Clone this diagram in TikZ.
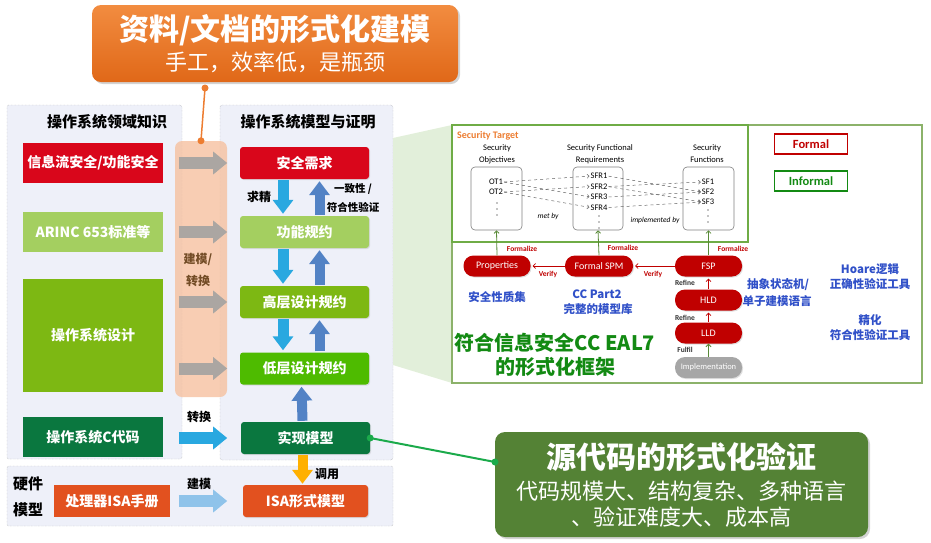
\documentclass[tikz,border=0pt]{standalone}
\usepackage{fontspec}
\setmainfont{Noto Sans CJK SC}
\newfontfamily\stfont{Carlito}
\usetikzlibrary{arrows.meta,shadows,positioning}
\definecolor{cred}{HTML}{D9061B}
\definecolor{clgreen}{HTML}{A4CF60}
\definecolor{cgreen}{HTML}{7DB813}
\definecolor{cbgreen}{HTML}{4EBB00}
\definecolor{cdgreen}{HTML}{0A773F}
\definecolor{corange}{HTML}{E2511F}
\definecolor{cpanel}{HTML}{EEF0F9}
\definecolor{cband}{HTML}{F6C1A0}
\definecolor{cgrayarr}{HTML}{ABA6A2}
\definecolor{ccyan}{HTML}{29A8E0}
\definecolor{cblue}{HTML}{5282C5}
\definecolor{cyellow}{HTML}{FFB000}
\definecolor{clblue}{HTML}{8FC3EA}
\definecolor{ctop}{HTML}{F28C40}
\definecolor{cbot}{HTML}{E06818}
\definecolor{csrc}{HTML}{548235}
\definecolor{ctrap}{HTML}{E2EFDA}
\definecolor{crpanel}{HTML}{8CB26A}
\definecolor{cst}{HTML}{6FAC46}
\definecolor{cpill}{HTML}{C00000}
\definecolor{cpgray}{HTML}{A6A6A6}
\definecolor{ctxtblue}{HTML}{3050C8}
\definecolor{cbiggreen}{HTML}{138A13}
\definecolor{cstorange}{HTML}{ED7D31}
\definecolor{clinkgreen}{HTML}{1BAA4B}
\begin{document}
\begin{tikzpicture}[x=1pt,y=-1pt]
        \tikzstyle{every node}+=[inner sep=0pt]
        \tikzstyle{panel}=[draw=gray!80, densely dotted, fill=cpanel, rounded corners=2pt]
        \tikzstyle{lbox}=[minimum width=140pt, minimum height=40pt, text=white, font=\bfseries\fontsize{14pt}{16pt}\selectfont]
        \tikzstyle{mbox}=[rounded corners=3pt, minimum width=129pt, minimum height=32pt, text=white, font=\bfseries\fontsize{14pt}{16pt}\selectfont, drop shadow={opacity=0.2, shadow xshift=1pt, shadow yshift=-1pt}]
        \tikzstyle{lbl}=[font=\bfseries\fontsize{12pt}{14pt}\selectfont]
        \tikzstyle{sidearr}=[line width=12pt, -{Triangle[length=14pt, width=22pt]}]
        \tikzstyle{vertarr}=[line width=11pt, -{Triangle[length=14pt, width=20pt]}]
        \tikzstyle{sttxt}=[font=\stfont\fontsize{8.5pt}{12pt}\selectfont, align=center]
        \tikzstyle{stbox}=[draw=gray, rounded corners=4pt, line width=0.6pt, minimum height=63pt]
        \tikzstyle{dasharr}=[dashed, gray!80!black, line width=0.5pt, -{Straight Barb[length=2pt, width=4pt]}, shorten <=1pt, shorten >=1pt]
        \tikzstyle{pill}=[fill=cpill, rounded corners=10pt, minimum width=67pt, minimum height=21pt, text=white, font=\stfont\fontsize{10pt}{12pt}\selectfont, drop shadow={opacity=0.25, shadow xshift=1pt, shadow yshift=-1pt}]
        \tikzstyle{garr}=[draw=cst!80!black, line width=0.8pt, -{Straight Barb[length=2.5pt, width=5pt]}]
        \tikzstyle{rarr}=[draw=cpill, line width=0.6pt, -{Straight Barb[length=2.5pt, width=5pt]}, shorten >=2pt]
        \tikzstyle{redsmall}=[text=cpill, font=\stfont\bfseries\fontsize{7.5pt}{9pt}\selectfont]
        \tikzstyle{bluetxt}=[text=ctxtblue, font=\bfseries\fontsize{11.5pt}{13pt}\selectfont]
        \tikzstyle{biggreen}=[text=cbiggreen, font=\bfseries\fontsize{20pt}{22pt}\selectfont]
        \tikzstyle{legend}=[line width=1.3pt, minimum width=73pt, minimum height=20pt, font=\stfont\bfseries\fontsize{12.5pt}{14pt}\selectfont]
        \useasboundingbox (0,0) rectangle (931,542);
        \draw [panel] (7,105) rectangle (182,459);
        \draw [panel] (220,105) rectangle (393,460);
        \draw [panel] (7,466) rectangle (393,526);
        \node [font=\bfseries\fontsize{15pt}{17pt}\selectfont] (lefttitle) at (107,122) {操作系统领域知识};
        \node [font=\bfseries\fontsize{15pt}{17pt}\selectfont] (midtitle) at (308,122) {操作系统模型与证明};
        \node [font=\bfseries\fontsize{15pt}{17pt}\selectfont] (hwone) at (28,484) {硬件};
        \node [font=\bfseries\fontsize{15pt}{17pt}\selectfont] (hwtwo) at (28,510) {模型};
        \fill [ctrap] (393,138) -- (452,125) -- (452,383) -- (393,365) -- cycle;
        \node [fill=cband, fill opacity=0.8, rounded corners=7pt, minimum width=52pt, minimum height=256pt] (band) at (201,269) {};
        \node [lbl, text=brown!60!black] (bandone) at (198,259) {建模/};
        \node [lbl, text=brown!60!black] (bandtwo) at (198,281) {转换};
        \node [lbox, fill=cred] (infosec) at (93,163) {信息流安全/功能安全};
        \node [lbox, fill=clgreen] (arinc) at (93,232) {ARINC 653标准等};
        \node [lbox, fill=cgreen, minimum height=113pt] (osdesign) at (93,335.5) {操作系统设计};
        \node [lbox, fill=cdgreen] (ccode) at (93,437) {操作系统C代码};
        \node [lbox, fill=corange, minimum width=116pt, minimum height=32pt] (isaman) at (112,501) {处理器ISA手册};
        \node [mbox, fill=cred] (secreq) at (304.5,163) {安全需求};
        \node [mbox, fill=clgreen] (funcspec) at (304.5,232) {功能规约};
        \node [mbox, fill=cgreen] (hldspec) at (304.5,302) {高层设计规约};
        \node [mbox, fill=cbgreen] (lldspec) at (304.5,368.5) {低层设计规约};
        \node [mbox, fill=cdgreen] (implmodel) at (305.5,438) {实现模型};
        \node [mbox, fill=corange, minimum width=125pt] (isamodel) at (305.5,501) {ISA形式模型};
        \draw [sidearr, cgrayarr] ([xshift=4pt]band.west |- secreq.west) -- (band.east |- secreq.west);
        \draw [sidearr, cgrayarr] ([xshift=4pt]band.west |- funcspec.west) -- (band.east |- funcspec.west);
        \draw [sidearr, cgrayarr] ([xshift=4pt]band.west |- hldspec.west) -- (band.east |- hldspec.west);
        \draw [sidearr, cgrayarr] ([xshift=4pt]band.west |- lldspec.west) -- (band.east |- lldspec.west);
        \draw [sidearr, ccyan] ([xshift=4pt]band.west |- implmodel.west) -- (band.east |- implmodel.west);
        \draw [sidearr, clblue] ([xshift=4pt]band.west |- isamodel.west) -- (band.east |- isamodel.west);
        \node [lbl] (convlbl) at (199,417) {转换};
        \node [lbl] (modlbl) at (199,484) {建模};
        \draw [vertarr, ccyan] ([xshift=-21.5pt, yshift=-1pt]secreq.south) -- ([xshift=-21.5pt, yshift=2pt]funcspec.north);
        \draw [vertarr, cblue, line width=10pt] ([xshift=15pt, yshift=1pt]funcspec.north) -- ([xshift=15pt, yshift=-2pt]secreq.south);
        \draw [vertarr, ccyan] ([xshift=-21.5pt, yshift=-1pt]funcspec.south) -- ([xshift=-21.5pt, yshift=2pt]hldspec.north);
        \draw [vertarr, cblue, line width=10pt] ([xshift=15pt, yshift=1pt]hldspec.north) -- ([xshift=15pt, yshift=-2pt]funcspec.south);
        \draw [vertarr, ccyan] ([xshift=-21.5pt, yshift=-1pt]hldspec.south) -- ([xshift=-21.5pt, yshift=2pt]lldspec.north);
        \draw [vertarr, cblue, line width=10pt] ([xshift=15pt, yshift=1pt]lldspec.north) -- ([xshift=15pt, yshift=-2pt]hldspec.south);
        \draw [vertarr, cblue, line width=10pt] ([xshift=-3pt, yshift=1pt]implmodel.north) -- ([xshift=-3pt, yshift=-2pt]lldspec.south);
        \draw [vertarr, cyellow, line width=10pt] ([xshift=-3pt, yshift=-1pt]implmodel.south) -- ([xshift=-3pt, yshift=1pt]isamodel.north);
        \node [lbl] (reflbl) at (259,197) {求精};
        \node [font=\bfseries\fontsize{10.5pt}{12pt}\selectfont] (conslbl) at (353,189) {一致性 /};
        \node [font=\bfseries\fontsize{10.5pt}{12pt}\selectfont] (conflbl) at (353,207) {符合性验证};
        \node [lbl] (calllbl) at (327,474) {调用};
        \node [top color=ctop, bottom color=cbot, rounded corners=9pt, minimum width=366pt, minimum height=77pt, drop shadow={opacity=0.35, shadow xshift=2pt, shadow yshift=-2pt}] (topcall) at (275,43.5) {};
        \node [text=white, font=\bfseries\fontsize{30pt}{34pt}\selectfont] (toptitle) at (275,30) {资料/文档的形式化建模};
        \node [text=white, font=\fontsize{22pt}{26pt}\selectfont] (topsub) at (275,62) {手工，效率低，是瓶颈};
        \coordinate (topout) at (205,88);
        \draw [cstorange, line width=1.5pt] (topout) -- (band.north);
        \fill [cstorange] (topout) circle (3.5);
        \fill [cstorange] (band.north) circle (3.5);
        \draw [crpanel, line width=1.5pt, fill=white] (452,125) rectangle (922,383);
        \draw [cst, line width=2.5pt] (452,125) rectangle (748,242);
        \node [anchor=west, text=cstorange, font=\stfont\bfseries\fontsize{10pt}{12pt}\selectfont] (sttitle) at (457,136) {Security Target};
        \node [sttxt] (sohead) at (497,154) {Security\\Objectives};
        \node [sttxt] (sfrhead) at (600,154) {Security Functional\\Requirements};
        \node [sttxt] (sfhead) at (707,154) {Security\\Functions};
        \node [stbox, minimum width=51pt] (sobox) at (496.5,198.5) {};
        \node [stbox, minimum width=50pt] (sfrbox) at (598,198.5) {};
        \node [stbox, minimum width=51pt] (sfbox) at (708.5,198.5) {};
        \node [sttxt] (otone) at (496,182) {OT1};
        \node [sttxt] (ottwo) at (496,192) {OT2};
        \node [sttxt] (sfrone) at (599,176) {SFR1};
        \node [sttxt] (sfrtwo) at (599,186.5) {SFR2};
        \node [sttxt] (sfrthree) at (599,197) {SFR3};
        \node [sttxt] (sfrfour) at (599,207.5) {SFR4};
        \node [sttxt] (sfone) at (708,182) {SF1};
        \node [sttxt] (sftwo) at (708,192) {SF2};
        \node [sttxt] (sfthree) at (708,202) {SF3};
        \foreach \d in {0,6,12} {
          \fill (497,203+\d) circle (0.6);
          \fill (599,216+\d) circle (0.6);
          \fill (708,210+\d) circle (0.6);
        }
        \draw [dasharr] (otone.east) -- (sfrone.west);
        \draw [dasharr] (otone.east) -- (sfrthree.west);
        \draw [dasharr] (ottwo.east) -- (sfrtwo.west);
        \draw [dasharr] (ottwo.east) -- (sfrfour.west);
        \draw [dasharr] (sfrone.east) -- (sftwo.west);
        \draw [dasharr] (sfrtwo.east) -- (sfone.west);
        \draw [dasharr] (sfrtwo.east) -- (sfthree.west);
        \draw [dasharr] (sfrthree.east) -- (sftwo.west);
        \draw [dasharr] (sfrfour.east) -- (sfthree.west);
        \node [font=\stfont\itshape\fontsize{7.5pt}{9pt}\selectfont] (metby) at (548,216) {met by};
        \node [font=\stfont\itshape\fontsize{7.5pt}{9pt}\selectfont] (implby) at (655,220) {implemented by};
        \node [pill] (props) at (497,266) {Properties};
        \node [pill, minimum width=68pt] (fspm) at (599,266) {Formal SPM};
        \node [pill] (fsp) at (708.5,266) {FSP};
        \node [pill] (hld) at (708.5,300) {HLD};
        \node [pill] (lld) at (708.5,333) {LLD};
        \node [pill, fill=cpgray, font=\stfont\fontsize{8.5pt}{10pt}\selectfont] (implnode) at (708.5,367.5) {Implementation};
        \draw [garr] (props.north) -- (sobox.south);
        \draw [garr] (fspm.north) -- (sfrbox.south);
        \draw [garr] (fsp.north) -- (sfbox.south);
        \draw [rarr] (fsp.west) -- (fspm.east);
        \draw [rarr] (fspm.west) -- (props.east);
        \draw [rarr] (hld.north) -- (fsp.south);
        \draw [rarr] (lld.north) -- (hld.south);
        \draw [garr] (implnode.north) -- (lld.south);
        \node [redsmall] (formone) at (522,249) {Formalize};
        \node [redsmall] (formtwo) at (623,248) {Formalize};
        \node [redsmall] (formthree) at (733,249) {Formalize};
        \node [redsmall] (verone) at (548,274) {Verify};
        \node [redsmall] (vertwo) at (653,274) {Verify};
        \node [redsmall, text=black!80] (refone) at (685,283) {Refine};
        \node [redsmall, text=black!80] (reftwo) at (685,318) {Refine};
        \node [redsmall, text=black!80] (fulfil) at (685,350) {Fulfil};
        \node [bluetxt] (propset) at (497,297) {安全性质集};
        \node [bluetxt] (ccpart) at (597,294) {CC Part2};
        \node [bluetxt] (cclib) at (598,309) {完整的模型库};
        \node [bluetxt] (asmone) at (778,285) {抽象状态机/};
        \node [bluetxt] (asmtwo) at (777,301) {单子建模语言};
        \node [bluetxt] (hoareone) at (870,269) {Hoare逻辑};
        \node [bluetxt] (hoaretwo) at (870,284) {正确性验证工具};
        \node [bluetxt] (refineone) at (870,320) {精化};
        \node [bluetxt] (refinetwo) at (870,335) {符合性验证工具};
        \node [biggreen] (eal) at (555,343) {符合信息安全CC EAL7};
        \node [biggreen] (frame) at (555,367) {的形式化框架};
        \node [legend, draw=cpill, text=cpill] (formal) at (811,144) {Formal};
        \node [legend, draw=cbiggreen, text=cbiggreen] (informal) at (811,181) {Informal};
        \node [fill=csrc, rounded corners=10pt, minimum width=373pt, minimum height=105pt, drop shadow={opacity=0.35, shadow xshift=2pt, shadow yshift=-2pt}] (srccall) at (681.5,484.5) {};
        \node [text=white, font=\bfseries\fontsize{30pt}{34pt}\selectfont] (srctitle) at (681.5,457) {源代码的形式化验证};
        \node [text=white, font=\fontsize{22pt}{26pt}\selectfont] (srcone) at (681.5,491) {代码规模大、结构复杂、多种语言};
        \node [text=white, font=\fontsize{22pt}{26pt}\selectfont] (srctwo) at (681.5,517) {、验证难度大、成本高};
        \coordinate (srcin) at (495,462);
        \draw [clinkgreen, line width=2pt] (implmodel.east) -- (srcin);
        \fill [clinkgreen] (implmodel.east) circle (3.5);
        \fill [clinkgreen] (srcin) circle (3.5);
      \end{tikzpicture}
\end{document}
